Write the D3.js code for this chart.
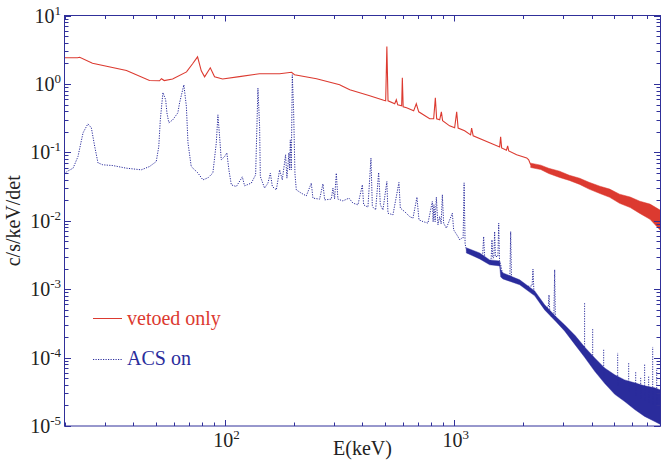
<!DOCTYPE html>
<html><head><meta charset="utf-8">
<script src="https://cdn.jsdelivr.net/npm/d3@7"></script>
<style>body{margin:0;background:#fff}svg{display:block}
text{font-family:"Liberation Serif","Times New Roman",Times,"DejaVu Serif",serif}</style>
</head><body><svg id="c" width="661" height="461"></svg>
<script>
// ---------- data ----------
const vetoedE = [20, 22.8, 23.3, 26.5, 37.3, 47.0, 52.0, 53.0, 54.5, 59.3, 68.2, 72.5, 76.2, 79.1, 81.8, 86.6, 90.4, 98.0, 116, 142, 174, 196, 202, 252, 318, 324, 352, 430, 495, 505, 511, 517, 553, 562, 570, 593, 597, 602, 623, 669, 687, 704, 786, 818, 832, 843, 869, 884, 895, 960, 1010, 1031, 1046, 1117, 1186, 1198, 1217, 1436, 1588, 1604, 1620, 1700, 1721, 1740, 1884, 2084, 2126, 2170];
const vetoedV = [2.41, 2.41, 2.45, 2.01, 1.57, 1.12, 1.11, 1.19, 1.12, 1.18, 1.50, 1.97, 2.49, 1.55, 1.27, 1.72, 1.27, 1.18, 1.28, 1.41, 1.41, 1.48, 1.36, 1.19, 0.97, 0.94, 0.82, 0.67, 0.576, 0.566, 3.52, 0.566, 0.512, 0.586, 0.495, 0.479, 1.23, 0.462, 0.447, 0.404, 0.512, 0.391, 0.309, 0.309, 0.626, 0.309, 0.299, 0.391, 0.289, 0.244, 0.228, 0.391, 0.226, 0.206, 0.180, 0.226, 0.174, 0.138, 0.120, 0.168, 0.116, 0.107, 0.124, 0.105, 0.092, 0.083, 0.0777, 0.0657];
const vetoedBandE  = [2170, 2400, 2600, 2900, 3200, 3550, 3900, 4350, 4800, 5300, 5900, 6500, 7200, 8000];
const vetoedBandLo = [0.0600, 0.0560, 0.0490, 0.0430, 0.0388, 0.0340, 0.0290, 0.0250, 0.0220, 0.0180, 0.0156, 0.0128, 0.0105, 0.0072];
const vetoedBandHi = [0.0695, 0.0650, 0.0585, 0.0530, 0.0462, 0.0418, 0.0365, 0.0320, 0.0290, 0.0245, 0.0222, 0.0193, 0.0175, 0.0142];

const acsE = [20.0, 20.5, 21.8, 22.9, 24.1, 25.3, 26.2, 27.1, 28.0, 29.4, 32.5, 37.2, 43.3, 47.0, 50.3, 51.6, 52.4, 53.8, 55.3, 56.0, 57.1, 59.4, 62.5, 63.6, 66.4, 68.1, 69.2, 71.5, 76.4, 80.4, 84.6, 88.9, 92.0, 93.5, 95.1, 96.7, 100, 102.3, 104.4, 107.0, 112.5, 119.5, 122.3, 130.8, 136.6, 139.8, 142.2, 143.2, 149.5, 154.6, 158.4, 161.6, 168.2, 173.9, 178.6, 184.6, 187.1, 190.9, 192.2, 193.6, 195.5, 197.5, 200.1, 202.8, 205.6, 216.2, 227.4, 239.1, 243.0, 259.9, 268.8, 273.4, 292.4, 297.1, 302.2, 307.4, 312.4, 328.5, 349.0, 363.4, 382.1, 399.4, 404.6, 422.5, 435.5, 441.6, 456.5, 470.5, 478.6, 491.3, 511, 516.6, 543.2, 576.9, 585.1, 611.0, 642.6, 664.2, 691.5, 705.6, 734.5, 772.4, 807.2, 813.7, 820.3, 830.2, 840.4, 853.9, 868.8, 882.0, 892.7, 904.3, 929.3, 987.0, 1000, 1044, 1062, 1089, 1100, 1111, 1122, 1136, 1214, 1299, 1338, 1352, 1366, 1436, 1458, 1470, 1482, 1498, 1510, 1522, 1560, 1573, 1586, 1600, 1642, 1699, 1760, 1774, 1788, 1879, 2078, 2200, 2220, 2240, 2375, 2497, 2590, 2608, 2626, 2671, 2740, 2761, 2780, 2809];
const acsV = [0.0485, 0.0524, 0.0587, 0.0868, 0.193, 0.261, 0.228, 0.1216, 0.0702, 0.0657, 0.0641, 0.0587, 0.0555, 0.0620, 0.0733, 0.1216, 0.299, 0.748, 0.585, 0.378, 0.270, 0.299, 0.378, 0.529, 0.970, 0.467, 0.138, 0.0620, 0.0501, 0.0396, 0.0424, 0.0501, 0.138, 0.353, 0.170, 0.0777, 0.0868, 0.0983, 0.0555, 0.0335, 0.0316, 0.0438, 0.0324, 0.0355, 0.0469, 0.868, 0.238, 0.0443, 0.0300, 0.0355, 0.0496, 0.0316, 0.0283, 0.0555, 0.0396, 0.0919, 0.0420, 0.0983, 0.0555, 0.152, 0.0555, 1.36, 0.418, 0.0496, 0.0283, 0.0253, 0.0231, 0.0355, 0.0214, 0.0207, 0.0346, 0.0202, 0.0207, 0.0300, 0.0209, 0.0496, 0.0207, 0.0195, 0.0214, 0.0181, 0.0171, 0.0335, 0.0171, 0.0158, 0.0823, 0.0161, 0.0144, 0.0507, 0.0171, 0.0144, 0.0374, 0.0129, 0.0122, 0.0362, 0.0153, 0.0136, 0.0115, 0.0109, 0.0221, 0.0103, 0.00973, 0.00923, 0.0191, 0.00964, 0.0171, 0.00964, 0.0221, 0.00871, 0.0115, 0.00901, 0.0239, 0.00923, 0.00779, 0.0129, 0.00736, 0.00587, 0.00526, 0.00562, 0.0056, 0.0358, 0.0046, 0.00375, 0.00336, 0.0030, 0.0031, 0.00587, 0.0029, 0.0024, 0.0028, 0.00526, 0.00285, 0.0029, 0.00695, 0.0030, 0.0030, 0.00923, 0.0026, 0.0024, 0.00153, 0.00145, 0.00148, 0.00695, 0.00150, 0.00129, 0.00109, 0.00112, 0.00196, 0.00095, 0.000659, 0.000528, 0.00055, 0.000825, 0.00050, 0.000397, 0.00043, 0.00192, 0.00038, 0.000356];
const acsBandE  = [1136, 1299, 1436, 1588, 1605, 1642, 1942, 2259, 2497, 2800, 3050, 3400, 3730, 4130, 4560, 5050, 5580, 6170, 6820, 7550, 8000];
const acsBandHi = [0.00402, 0.00339, 0.00268, 0.00259, 0.00192, 0.00173, 0.00137, 0.000944, 0.000590, 0.000394, 0.000301, 0.000208, 0.000143, 0.0000990, 0.0000707, 0.0000559, 0.0000472, 0.0000427, 0.0000386, 0.0000361, 0.0000337];
const acsBandLo = [0.00339, 0.00277, 0.00227, 0.00219, 0.00151, 0.00141, 0.00116, 0.000798, 0.000498, 0.000333, 0.000245, 0.000152, 0.000101, 0.0000630, 0.0000420, 0.0000290, 0.0000228, 0.0000174, 0.0000138, 0.0000116, 0.0000105];
const acsSpikeE    = [3730, 4046, 4519, 5202, 5810, 6234, 6556, 6820, 7103, 7396, 7700];
const acsSpikeBase = [0.000121, 0.0000837, 0.000054, 0.0000386, 0.0000315, 0.0000275, 0.0000249, 0.0000233, 0.0000218, 0.0000203, 0.0000197];
const acsSpikePeak = [0.00063, 0.000272, 0.00013, 0.000117, 0.0000865, 0.0000618, 0.0000505, 0.0000809, 0.000054, 0.000143, 0.0000661];

const xLabelExps = [2, 3];
const yLabelExps = [1, 0, -1, -2, -3, -4, -5];
const legendNames = ["vetoed only", "ACS on"];
const xTitle = "E(keV)";
const yTitle = "c/s/keV/det";

// ---------- layout ----------
const L = 64.5, R = 660.5, T = 15.5, B = 426;
const RED = "#dc3a30", BLUE = "#2a2c9c", AXIS = "#30309a";
const svg = d3.select("#c");
const x = d3.scaleLog().domain([20, 8000]).range([L, R]);
const y = d3.scaleLog().domain([1e-5, 10]).range([B, T]);

svg.append("defs").append("clipPath").attr("id", "clip")
  .append("rect").attr("x", L).attr("y", T).attr("width", R - L).attr("height", B - T);
const plot = svg.append("g").attr("clip-path", "url(#clip)");

const line = d3.line().x(d => x(d[0])).y(d => y(d[1]));
const area = d3.area().x(d => x(d[0])).y0(d => y(d[1])).y1(d => y(d[2]));

// ACS on (blue, dotted)
const acsData = acsE.map((e, i) => [e, acsV[i]]);
const acsBand = acsBandE.map((e, i) => [e, acsBandLo[i], acsBandHi[i]]);
plot.append("path").datum(acsBand).attr("d", area).attr("fill", BLUE).attr("stroke", BLUE).attr("stroke-width", 0.4);
plot.append("path").datum(acsData).attr("d", line).attr("fill", "none")
  .attr("stroke", BLUE).attr("stroke-width", 1).attr("stroke-dasharray", "1.2,1.3");
plot.selectAll("line.spike").data(acsSpikeE).enter().append("line").attr("class", "spike")
  .attr("x1", d => x(d)).attr("x2", d => x(d))
  .attr("y1", (d, i) => y(acsSpikeBase[i])).attr("y2", (d, i) => y(acsSpikePeak[i]))
  .attr("stroke", BLUE).attr("stroke-width", 1).attr("stroke-dasharray", "1.2,1.3");

// vetoed only (red, solid)
const vetData = vetoedE.map((e, i) => [e, vetoedV[i]]);
const vetBand = vetoedBandE.map((e, i) => [e, vetoedBandLo[i], vetoedBandHi[i]]);
plot.append("path").datum(vetBand).attr("d", area).attr("fill", RED).attr("stroke", RED).attr("stroke-width", 0.5);
plot.append("path").datum(vetData).attr("d", line).attr("fill", "none")
  .attr("stroke", RED).attr("stroke-width", 1.1);

// ---------- axes box & ticks ----------
const ax = svg.append("g").attr("stroke", AXIS).attr("stroke-width", 1).attr("fill", "none");
ax.append("rect").attr("x", L).attr("y", T).attr("width", R - L).attr("height", B - T);
const isMajor = v => Math.abs(Math.log10(v) - Math.round(Math.log10(v))) < 1e-9;
x.ticks().forEach(v => {
  const px = Math.round(x(v)) + 0.5, len = isMajor(v) ? 6 : 3.5;
  ax.append("line").attr("x1", px).attr("x2", px).attr("y1", B).attr("y2", B - len);
  ax.append("line").attr("x1", px).attr("x2", px).attr("y1", T).attr("y2", T + len);
});
y.ticks().forEach(v => {
  const py = Math.round(y(v)) + 0.5, len = isMajor(v) ? 6.5 : 4;
  ax.append("line").attr("y1", py).attr("y2", py).attr("x1", L).attr("x2", L + len);
  ax.append("line").attr("y1", py).attr("y2", py).attr("x1", R).attr("x2", R - len);
});

// tick labels
const txt = svg.append("g").attr("fill", "#222");
function powLabel(g, e) {
  g.append("tspan").text("10");
  g.append("tspan").attr("dy", -8).attr("font-size", 13).text(String(e));
}
yLabelExps.forEach(e => {
  const t = txt.append("text").attr("x", 61).attr("y", y(Math.pow(10, e)) + 7)
    .attr("text-anchor", "end").attr("font-size", 20);
  powLabel(t, e);
});
xLabelExps.forEach(e => {
  const t = txt.append("text").attr("x", x(Math.pow(10, e)) + 2).attr("y", 447)
    .attr("text-anchor", "middle").attr("font-size", 20);
  powLabel(t, e);
});
txt.append("text").attr("x", (L + R) / 2).attr("y", 455).attr("text-anchor", "middle")
  .attr("font-size", 20).text(xTitle);
txt.append("text").attr("transform", `translate(20,${(T + B) / 2}) rotate(-90)`)
  .attr("text-anchor", "middle").attr("font-size", 20).text(yTitle);

// ---------- legend ----------
const lg = svg.append("g").attr("font-size", 20);
lg.append("line").attr("x1", 93).attr("x2", 122).attr("y1", 318.5).attr("y2", 318.5)
  .attr("stroke", RED).attr("stroke-width", 1);
lg.append("text").attr("x", 127).attr("y", 325).attr("fill", RED).text(legendNames[0]);
lg.append("line").attr("x1", 93).attr("x2", 122).attr("y1", 359.5).attr("y2", 359.5)
  .attr("stroke", BLUE).attr("stroke-width", 1).attr("stroke-dasharray", "1.2,1.3");
lg.append("text").attr("x", 127).attr("y", 365).attr("fill", BLUE).text(legendNames[1]);
</script></body></html>
